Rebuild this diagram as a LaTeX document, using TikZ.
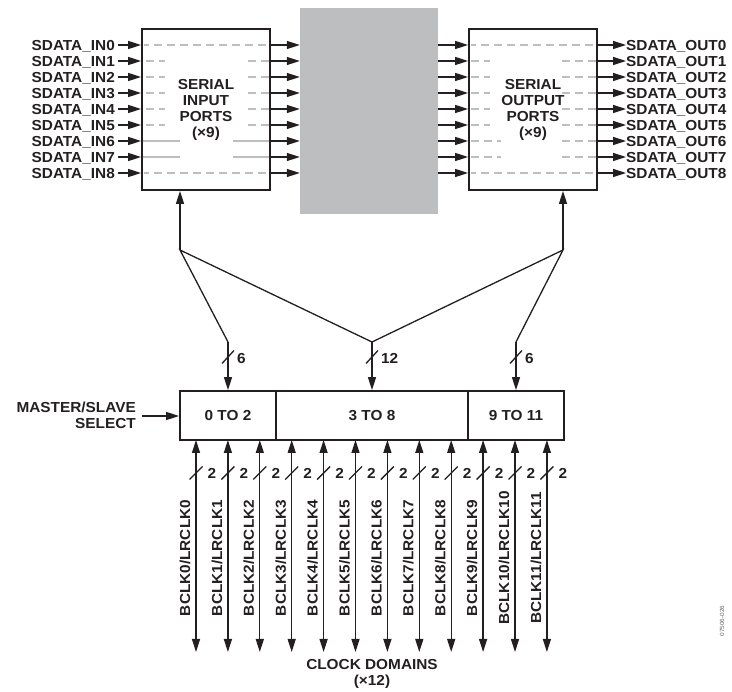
\documentclass[tikz,border=0pt]{standalone}
\usepackage{fontspec}
\newfontfamily\labfont{Liberation Sans}[FakeStretch=1.06]
\usetikzlibrary{arrows.meta,calc}
\definecolor{ink}{HTML}{231F20}
\definecolor{gbox}{HTML}{BCBEC0}
\definecolor{dline}{HTML}{BCBEC0}
\begin{document}
\begin{tikzpicture}[x=1pt,y=-1pt,
  lbl/.style={font=\labfont\bfseries\fontsize{14.5}{16}\selectfont, text=ink, inner sep=0pt, text height=10.4pt, text depth=0pt},
  blk/.style={draw=ink, line width=1.8pt, inner sep=0pt, font=\labfont\bfseries\fontsize{14.5}{16}\selectfont, text=ink, align=center},
  arr/.style={draw=ink, line width=1.3pt, -{Triangle[length=13pt,width=8pt]}},
  darr/.style={draw=ink, line width=1.3pt, {Triangle[length=13pt,width=8pt]}-{Triangle[length=13pt,width=8pt]}},
  bus/.style={draw=ink, line width=1.3pt},
  dsh/.style={draw=dline, line width=1.4pt, dash pattern=on 8pt off 5pt},
  sld/.style={draw=dline, line width=1.4pt},
  slash/.style={draw=ink, line width=1.3pt}
]
\useasboundingbox (0,0) rectangle (732,692);

% central gray block
\node[fill=gbox, minimum width=138pt, minimum height=206pt, inner sep=0pt] (core) at (369,111) {};

% serial input / output boxes
\node[blk, minimum width=128pt, minimum height=161pt] (sip) at (206,109.5) {SERIAL\\INPUT\\PORTS\\(×9)};
\node[blk, minimum width=128pt, minimum height=161pt] (sop) at (533,109.5) {SERIAL\\OUTPUT\\PORTS\\(×9)};

% rows
\foreach \i in {0,...,8} {
  \pgfmathsetmacro{\yy}{45+16*\i}
  \node[lbl, anchor=east] (in\i) at (115,\yy) {SDATA\_IN\i};
  \coordinate (ins\i) at (118,\yy);
  \draw[arr] (ins\i) -- (ins\i -| sip.west);
  \coordinate (sipo\i) at (sip.east |- ins\i);
  \draw[arr] (sipo\i) -- (sipo\i -| core.west);
  \coordinate (coo\i) at (core.east |- ins\i);
  \draw[arr] (coo\i) -- (coo\i -| sop.west);
  \node[lbl, anchor=west] (out\i) at (626,\yy) {SDATA\_OUT\i};
  \coordinate (sopo\i) at (sop.east |- ins\i);
  \draw[arr] (sopo\i) -- (sopo\i -| out\i.west);
}

% internal lines, input box
\foreach \i in {0,8} {\draw[dsh, dash phase=3pt] (144,45+16*\i) -- (270,45+16*\i);}
\foreach \i in {1,...,5} {
  \draw[dsh] (146,45+16*\i) -- (165,45+16*\i);
  \draw[dsh] (248,45+16*\i) -- (270,45+16*\i);
}
\foreach \i in {6,7} {
  \draw[sld] (143,45+16*\i) -- (180,45+16*\i);
  \draw[sld] (233,45+16*\i) -- (269,45+16*\i);
}
% internal lines, output box
\foreach \i in {0,8} {\draw[dsh, dash phase=3pt] (471,45+16*\i) -- (597,45+16*\i);}
\foreach \i in {1,...,5} {
  \draw[dsh] (471,45+16*\i) -- (490,45+16*\i);
  \draw[dsh] (562,45+16*\i) -- (596,45+16*\i);
}
\foreach \i in {6,7} {
  \draw[dsh] (471,45+16*\i) -- (501,45+16*\i);
  \draw[dsh] (562,45+16*\i) -- (596,45+16*\i);
}

% clock-domain block
\node[blk, minimum width=96pt, minimum height=49pt] (d0) at (228,415.5) {0 TO 2};
\node[blk, minimum width=192pt, minimum height=49pt] (d1) at (372,415.5) {3 TO 8};
\node[blk, minimum width=96pt, minimum height=49pt] (d2) at (516,415.5) {9 TO 11};

% bus
\coordinate (jl) at (180,250);
\coordinate (jr) at (563,250);
\coordinate (b0) at (228,342);
\coordinate (b1) at (372,342);
\coordinate (b2) at (516,342);
\draw[arr] (jl) -- (jl |- sip.south);
\draw[arr] (jr) -- (jr |- sop.south);
\draw[bus, line join=miter] (b0) -- (jl) -- (b1) -- (jr) -- (b2);
\draw[arr] (b0) -- (b0 |- d0.north);
\draw[arr] (b1) -- (b1 |- d1.north);
\draw[arr] (b2) -- (b2 |- d2.north);
\foreach \c/\t in {b0/6,b1/12,b2/6} {
  \draw[slash] ($(\c)+(-6,21.5)$) -- ($(\c)+(6,8.5)$);
  \node[lbl, anchor=west] (w\c) at ($(\c)+(9,16)$) {\t};
}

% master/slave select
\node[lbl, anchor=east, align=right, text height=, text depth=] (ms) at (136,415.5) {MASTER/SLAVE\\SELECT};
\coordinate (mss) at (142,416);
\draw[arr] (mss) -- (mss -| d0.west);

% clock lines
\foreach \i in {0,...,11} {
  \pgfmathsetmacro{\xx}{196+31.9*\i}
  \coordinate (ct\i) at (\xx,440);
  \coordinate (cb\i) at (\xx,652);
  \draw[darr] (ct\i) -- (cb\i);
  \draw[slash] (\xx-6.5,479.5) -- (\xx+6.5,466.5);
  \node[lbl] (two\i) at (\xx+16,473) {2};
  \node[lbl, rotate=90, text height=, text depth=] (cl\i) at (\xx-11,558) {BCLK\i/LRCLK\i};
}

\node[lbl, align=center, text height=, text depth=] (cd) at (372,674) {CLOCK DOMAINS\\(×12)};

\node[rotate=90, font=\labfont\fontsize{6}{7}\selectfont, text=ink!70, inner sep=0pt] (fig) at (722,621) {07506-026};
\end{tikzpicture}
\end{document}
